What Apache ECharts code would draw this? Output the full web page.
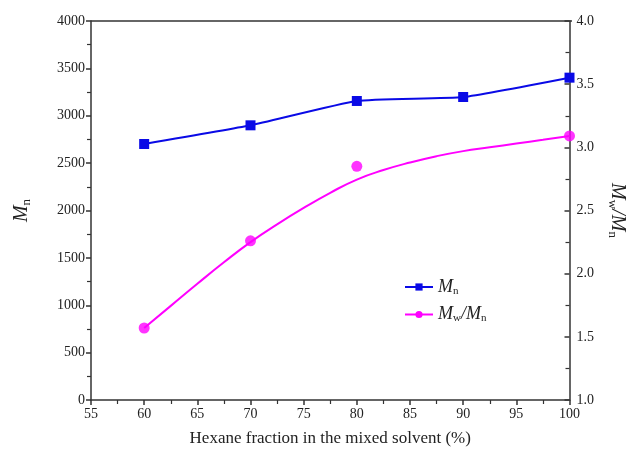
<!DOCTYPE html>
<html><head><meta charset="utf-8">
<script src="https://cdn.jsdelivr.net/npm/echarts@6/dist/echarts.min.js"></script>
<style>html,body{margin:0;padding:0;background:#fff}#c{width:635px;height:453px}</style>
</head><body><div id="c"></div>
<script>
const hexane = [60, 70, 80, 90, 100];
const mnValues = [2702, 2899, 3156, 3198, 3402];
const pdiX = [60, 70, 80, 100];
const pdiValues = [1.57, 2.26, 2.85, 3.09];
// fitted curve
const pdiCurveX = [60, 62.5, 65, 67.5, 70, 72.5, 75, 77.5, 80, 82.5, 85, 87.5, 90, 92.5, 95, 97.5, 100];
const pdiCurveY = [1.57, 1.745, 1.92, 2.09, 2.25, 2.39, 2.52, 2.64, 2.745, 2.82, 2.88, 2.93, 2.97, 3.0, 3.03, 3.06, 3.09];
const xTicks = [55, 100, 5];
const leftTicks = [0, 4000, 500];
const rightTicks = [1.0, 4.0, 0.5];

const FONT = 'Liberation Serif';
const AX = '#333';
const zip = (a, b) => a.map((v, i) => [v, b[i]]);

const chart = echarts.init(document.getElementById('c'));
chart.setOption({
  animation: false,
  backgroundColor: '#fff',
  grid: { left: 91, right: 63, top: 21, bottom: 53 },
  legend: {
    orient: 'vertical', left: 399, top: 273, itemGap: 9,
    itemWidth: 28, itemHeight: 9,
    data: ['Mn', 'Mw/Mn'],
    formatter: n => n === 'Mn' ? '{i|M}{s|n}' : '{i|M}{s|w}{i|/M}{s|n}',
    textStyle: {
      fontFamily: FONT, color: '#222',
      rich: {
        i: { fontFamily: FONT, fontStyle: 'italic', fontSize: 18, color: '#222' },
        s: { fontFamily: FONT, fontSize: 11, color: '#222', verticalAlign: 'bottom', padding: [8, 0, 0, 0] }
      }
    }
  },
  xAxis: {
    type: 'value', min: xTicks[0], max: xTicks[1], interval: xTicks[2],
    name: 'Hexane fraction in the mixed solvent (%)', nameLocation: 'middle', nameGap: 30,
    nameTextStyle: { fontFamily: FONT, fontSize: 17, color: '#222' },
    axisLine: { show: true, onZero: false, lineStyle: { color: AX, width: 1.5 } },
    axisTick: { show: true, inside: false, length: 5, lineStyle: { color: AX, width: 1.5 } },
    minorTick: { show: true, splitNumber: 2, length: 4, lineStyle: { color: AX, width: 1.2 } },
    axisLabel: { fontFamily: FONT, fontSize: 14, color: '#222', margin: 7 },
    splitLine: { show: false }
  },
  yAxis: [{
    type: 'value', min: leftTicks[0], max: leftTicks[1], interval: leftTicks[2], position: 'left',
    name: '{i|M}{s|n}', nameLocation: 'middle', nameGap: 58, nameRotate: 90,
    nameTextStyle: {
      rich: {
        i: { fontFamily: FONT, fontStyle: 'italic', fontSize: 20, color: '#222' },
        s: { fontFamily: FONT, fontSize: 13, color: '#222', verticalAlign: 'bottom', padding: [10, 0, 0, 0] }
      }
    },
    axisLine: { show: true, lineStyle: { color: AX, width: 1.5 } },
    axisTick: { show: true, inside: false, length: 5, lineStyle: { color: AX, width: 1.5 } },
    minorTick: { show: true, splitNumber: 2, length: 4, lineStyle: { color: AX, width: 1.2 } },
    axisLabel: { fontFamily: FONT, fontSize: 14, color: '#222', margin: 6, formatter: v => String(v) },
    splitLine: { show: false }
  }, {
    type: 'value', min: rightTicks[0], max: rightTicks[1], interval: rightTicks[2], position: 'right',
    name: '{i|M}{s|w}{i|/M}{s|n}', nameLocation: 'middle', nameGap: 36, nameRotate: -90,
    nameTextStyle: {
      rich: {
        i: { fontFamily: FONT, fontStyle: 'italic', fontSize: 20, color: '#222' },
        s: { fontFamily: FONT, fontSize: 13, color: '#222', verticalAlign: 'bottom', padding: [10, 0, 0, 0] }
      }
    },
    axisLine: { show: true, lineStyle: { color: AX, width: 1.5 } },
    axisTick: { show: true, inside: true, length: 5, lineStyle: { color: AX, width: 1.5 } },
    minorTick: { show: true, splitNumber: 2, length: 4, lineStyle: { color: AX, width: 1.2 } },
    axisLabel: { fontFamily: FONT, fontSize: 14, color: '#222', margin: 7, formatter: v => v.toFixed(1) },
    splitLine: { show: false }
  }],
  graphic: [{
    type: 'line', silent: true,
    shape: { x1: 91, y1: 21, x2: 572, y2: 21 },
    style: { stroke: AX, lineWidth: 1.5 }
  }],
  series: [{
    name: 'Mn', type: 'line', yAxisIndex: 0, smooth: 0.15,
    data: zip(hexane, mnValues),
    symbol: 'rect', symbolSize: 10,
    lineStyle: { color: '#0a0ae6', width: 2 },
    itemStyle: { color: '#0a0ae6' }
  }, {
    name: 'Mw/Mn', type: 'line', yAxisIndex: 1, smooth: 0.5,
    data: zip(pdiCurveX, pdiCurveY),
    symbol: 'circle', symbolSize: 10, showSymbol: false,
    lineStyle: { color: '#ff00ff', width: 2 },
    itemStyle: { color: '#ff00ff' }
  }, {
    name: 'Mw/Mn', type: 'scatter', yAxisIndex: 1,
    data: zip(pdiX, pdiValues),
    symbol: 'circle', symbolSize: 11,
    itemStyle: { color: '#ff00ff' }
  }]
});
</script></body></html>
